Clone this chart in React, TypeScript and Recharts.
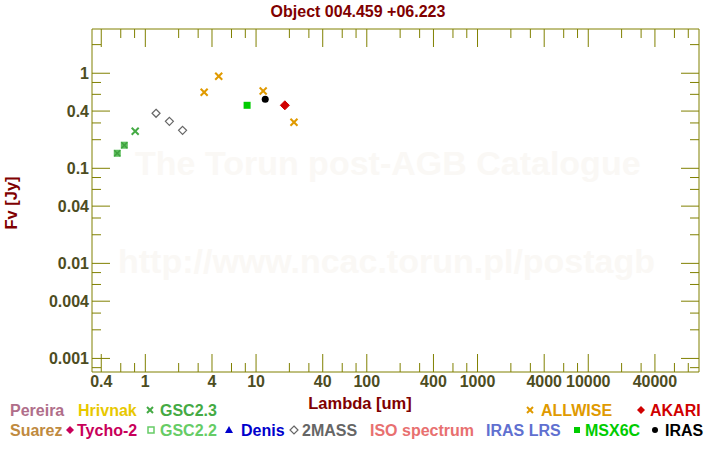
import React from 'react'
import { ScatterChart, Scatter, XAxis, YAxis } from 'recharts'

// wavelength [um] / flux [Jy]
const gsc23Lambda = [0.81]
const gsc23Flux = [0.245]
const gsc22Lambda = [0.558, 0.646]
const gsc22Flux = [0.144, 0.175]
const twoMassLambda = [1.25, 1.65, 2.17]
const twoMassFlux = [0.379, 0.312, 0.251]
const allwiseLambda = [3.4, 4.6, 11.6, 22]
const allwiseFlux = [0.631, 0.93, 0.651, 0.305]
const msxLambda = [8.3]
const msxFlux = [0.46]
const irasLambda = [12.1]
const irasFlux = [0.532]
const akariLambda = [18.2]
const akariFlux = [0.46]

const xMajor = [0.4, 1, 4, 10, 40, 100, 400, 1000, 4000, 10000, 40000]
const xMinor = [0.6, 0.8, 2, 3, 6, 8, 20, 30, 60, 80, 200, 300, 600, 800, 2000, 3000, 6000, 8000, 20000, 30000, 60000, 80000]
const yMajor = [1, 0.4, 0.1, 0.04, 0.01, 0.004, 0.001]
const yMinor = [2, 0.8, 0.6, 0.3, 0.2, 0.08, 0.06, 0.03, 0.02, 0.008, 0.006, 0.003, 0.002, 0.0008]

const xTicks = [...xMajor, ...xMinor].sort((a, b) => a - b)
const yTicks = [...yMajor, ...yMinor].sort((a, b) => a - b)

const toPoints = (xs: number[], ys: number[]) => xs.map((x, i) => ({ x, y: ys[i] }))

const AXIS = '#808000'
const TICK_TEXT = '#4d4d1f'
const TITLE = '#800000'
const FONT = 'Liberation Sans, Arial, sans-serif'
const LONG = 18
const SHORT = 9

const fmt = (v: number) => String(v)

const BottomTick = ({ x, y, payload }: any) => {
  const major = xMajor.includes(payload.value)
  return (
    <g>
      <line x1={x} x2={x} y1={y} y2={y - (major ? LONG : SHORT)} stroke={AXIS} />
      {major && (
        <text x={x} y={y + 15} textAnchor="middle" fontSize={16} fontWeight="bold" fill={TICK_TEXT} fontFamily={FONT}>
          {fmt(payload.value)}
        </text>
      )}
    </g>
  )
}

const TopTick = ({ x, y, payload }: any) => {
  const major = xMajor.includes(payload.value)
  return <line x1={x} x2={x} y1={y} y2={y + (major ? LONG : SHORT)} stroke={AXIS} />
}

const LeftTick = ({ x, y, payload }: any) => {
  const major = yMajor.includes(payload.value)
  return (
    <g>
      <line x1={x} x2={x + (major ? LONG : SHORT)} y1={y} y2={y} stroke={AXIS} />
      {major && (
        <text x={x - 3} y={y + 6} textAnchor="end" fontSize={16} fontWeight="bold" fill={TICK_TEXT} fontFamily={FONT}>
          {fmt(payload.value)}
        </text>
      )}
    </g>
  )
}

const RightTick = ({ x, y, payload }: any) => {
  const major = yMajor.includes(payload.value)
  return <line x1={x} x2={x - (major ? LONG : SHORT)} y1={y} y2={y} stroke={AXIS} />
}

const cross = (color: string, s = 3.5) => (p: any) => (
  <g stroke={color} strokeWidth={2}>
    <line x1={p.cx - s} y1={p.cy - s} x2={p.cx + s} y2={p.cy + s} />
    <line x1={p.cx - s} y1={p.cy + s} x2={p.cx + s} y2={p.cy - s} />
  </g>
)
const square = (color: string, s = 3.5) => (p: any) => (
  <rect x={p.cx - s} y={p.cy - s} width={2 * s} height={2 * s} fill={color} />
)
const gscSquare = (p: any) => (
  <g>
    <rect x={p.cx - 3.5} y={p.cy - 3.5} width={7} height={7} fill="#5cbf5c" />
    <g stroke="#3f9f3f" strokeWidth={1.2}>
      <line x1={p.cx - 3} y1={p.cy - 3} x2={p.cx + 3} y2={p.cy + 3} />
      <line x1={p.cx - 3} y1={p.cy + 3} x2={p.cx + 3} y2={p.cy - 3} />
    </g>
  </g>
)
const diamond = (color: string, s: number, filled: boolean) => (p: any) => (
  <polygon
    points={`${p.cx},${p.cy - s} ${p.cx + s},${p.cy} ${p.cx},${p.cy + s} ${p.cx - s},${p.cy}`}
    fill={filled ? color : 'none'}
    stroke={color}
    strokeWidth={filled ? 1 : 1.2}
  />
)
const dot = (color: string) => (p: any) => <circle cx={p.cx} cy={p.cy} r={3.5} fill={color} />

const legend = [
  { row: 0, x: 10, label: 'Pereira', color: '#b06e8a' },
  { row: 0, x: 78, label: 'Hrivnak', color: '#e8c800' },
  { row: 0, x: 160, label: 'GSC2.3', color: '#44aa44', mark: 'cross', mx: 150 },
  { row: 0, x: 541, label: 'ALLWISE', color: '#e09a00', mark: 'cross', mx: 530 },
  { row: 0, x: 650, label: 'AKARI', color: '#d00000', mark: 'diamond', mx: 641 },
  { row: 1, x: 10, label: 'Suarez', color: '#c08a40' },
  { row: 1, x: 77, label: 'Tycho-2', color: '#c8005a', mark: 'diamond', mx: 70 },
  { row: 1, x: 160, label: 'GSC2.2', color: '#66cc66', mark: 'osquare', mx: 151 },
  { row: 1, x: 241, label: 'Denis', color: '#0000cc', mark: 'triangle', mx: 229 },
  { row: 1, x: 302, label: '2MASS', color: '#666666', mark: 'odiamond', mx: 294 },
  { row: 1, x: 370, label: 'ISO spectrum', color: '#e87070' },
  { row: 1, x: 486, label: 'IRAS LRS', color: '#6070d0' },
  { row: 1, x: 585, label: 'MSX6C', color: '#00cc00', mark: 'square', mx: 577 },
  { row: 1, x: 665, label: 'IRAS', color: '#000000', mark: 'dot', mx: 655 },
]

const LegendMark = ({ kind, x, y, color }: { kind: string; x: number; y: number; color: string }) => {
  if (kind === 'cross')
    return (
      <g stroke={color} strokeWidth={2}>
        <line x1={x - 3} y1={y - 3} x2={x + 3} y2={y + 3} />
        <line x1={x - 3} y1={y + 3} x2={x + 3} y2={y - 3} />
      </g>
    )
  if (kind === 'diamond')
    return <polygon points={`${x},${y - 4} ${x + 4},${y} ${x},${y + 4} ${x - 4},${y}`} fill={color} />
  if (kind === 'odiamond')
    return <polygon points={`${x},${y - 4} ${x + 4},${y} ${x},${y + 4} ${x - 4},${y}`} fill="none" stroke={color} strokeWidth={1.2} />
  if (kind === 'osquare')
    return <rect x={x - 3} y={y - 3} width={6} height={6} fill="none" stroke={color} strokeWidth={1.5} />
  if (kind === 'square') return <rect x={x - 3} y={y - 3} width={6} height={6} fill={color} />
  if (kind === 'triangle') return <polygon points={`${x},${y - 4} ${x + 4},${y + 3} ${x - 4},${y + 3}`} fill={color} />
  return <circle cx={x} cy={y} r={3} fill={color} />
}

export default function App() {
  return (
    <div style={{ position: 'absolute', left: 0, top: 0, width: 720, height: 450, background: '#fff' }}>
      <svg width={720} height={450} style={{ position: 'absolute', left: 0, top: 0 }}>
        <g fontFamily={FONT} fontWeight="bold" fontSize={34} fill="#faf8f5">
          <text x={135} y={175}>The Torun post-AGB Catalogue</text>
          <text x={118} y={273}>http://www.ncac.torun.pl/postagb</text>
        </g>
      </svg>
      <div style={{ position: 'absolute', left: 0, top: 0 }}>
        <ScatterChart width={720} height={450} margin={{ top: 19, right: 11, bottom: 48, left: 32 }}>
          <XAxis
            xAxisId="b"
            dataKey="x"
            type="number"
            scale="log"
            domain={[0.33, 100000]}
            allowDataOverflow
            ticks={xTicks}
            interval={0}
            tickSize={0}
            tickMargin={0}
            height={30}
            stroke={AXIS}
            tick={<BottomTick />}
          />
          <XAxis
            xAxisId="t"
            orientation="top"
            dataKey="x"
            type="number"
            scale="log"
            domain={[0.33, 100000]}
            allowDataOverflow
            ticks={xTicks}
            interval={0}
            tickSize={0}
            tickMargin={0}
            height={10}
            stroke={AXIS}
            tick={<TopTick />}
          />
          <YAxis
            yAxisId="l"
            dataKey="y"
            type="number"
            scale="log"
            domain={[0.00072, 2.92]}
            allowDataOverflow
            ticks={yTicks}
            interval={0}
            tickSize={0}
            tickMargin={0}
            width={60}
            stroke={AXIS}
            tick={<LeftTick />}
          />
          <YAxis
            yAxisId="r"
            orientation="right"
            dataKey="y"
            type="number"
            scale="log"
            domain={[0.00072, 2.92]}
            allowDataOverflow
            ticks={yTicks}
            interval={0}
            tickSize={0}
            tickMargin={0}
            width={10}
            stroke={AXIS}
            tick={<RightTick />}
          />
          <Scatter xAxisId="b" yAxisId="l" data={toPoints(gsc22Lambda, gsc22Flux)} shape={gscSquare} isAnimationActive={false} />
          <Scatter xAxisId="b" yAxisId="l" data={toPoints(gsc23Lambda, gsc23Flux)} shape={cross('#44aa44')} isAnimationActive={false} />
          <Scatter xAxisId="b" yAxisId="l" data={toPoints(twoMassLambda, twoMassFlux)} shape={diamond('#666666', 4, false)} isAnimationActive={false} />
          <Scatter xAxisId="b" yAxisId="l" data={toPoints(allwiseLambda, allwiseFlux)} shape={cross('#e09a00')} isAnimationActive={false} />
          <Scatter xAxisId="b" yAxisId="l" data={toPoints(msxLambda, msxFlux)} shape={square('#00cc00')} isAnimationActive={false} />
          <Scatter xAxisId="b" yAxisId="l" data={toPoints(irasLambda, irasFlux)} shape={dot('#000000')} isAnimationActive={false} />
          <Scatter xAxisId="b" yAxisId="l" data={toPoints(akariLambda, akariFlux)} shape={diamond('#d00000', 4.5, true)} isAnimationActive={false} />
        </ScatterChart>
      </div>
      <svg width={720} height={450} style={{ position: 'absolute', left: 0, top: 0, pointerEvents: 'none' }}>
        <g fontFamily={FONT} fontWeight="bold">
          <text x={358} y={17} textAnchor="middle" fontSize={16} fill={TITLE}>Object 004.459 +06.223</text>
          <text x={360} y={409} textAnchor="middle" fontSize={16.5} fill={TITLE}>Lambda [um]</text>
          <text x={17} y={203} textAnchor="middle" fontSize={16.5} fill={TITLE} transform="rotate(-90 17 203)">Fv [Jy]</text>
          {legend.map((l) => {
            const y = l.row === 0 ? 416 : 436
            return (
              <g key={l.label}>
                {l.mark && <LegendMark kind={l.mark} x={l.mx as number} y={y - 6} color={l.color} />}
                <text x={l.x} y={y} fontSize={16} fill={l.color}>{l.label}</text>
              </g>
            )
          })}
        </g>
      </svg>
    </div>
  )
}
